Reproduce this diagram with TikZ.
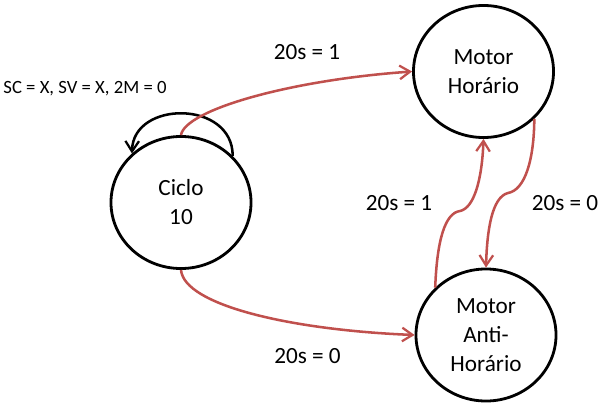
\documentclass[tikz,border=0pt]{standalone}
\usepackage{fontspec}
\setmainfont{Carlito}
\usetikzlibrary{shapes.geometric,arrows.meta}
\definecolor{arrowred}{RGB}{192,80,77}

\begin{document}
\begin{tikzpicture}[x=0.025cm, y=-0.025cm,
		state/.style={draw, line width=2pt, ellipse, minimum width=3.5cm, minimum height=3.3cm, inner sep=0pt, align=center, font=\fontsize{16.5}{20.6}\selectfont},
		trans/.style={draw=arrowred, line width=1.8pt, -{Straight Barb[length=2.6mm, width=3.4mm, line width=1.6pt]}},
		lbl/.style={font=\fontsize{16.5}{20.6}\selectfont}]
			\useasboundingbox (0,0) rectangle (602,407);
			\node[state] (ciclo)   at (181,  202.5) {Ciclo\\10};
			\node[state] (horario) at (483.5, 71.5) {Motor\\Horário};
			\node[state] (anti)    at (486,  335)   {Motor\\Anti-\\Horário};
			\node[font=\fontsize{13.3}{16}\selectfont] (lblloop) at (85, 89) {SC = X, SV = X, 2M = 0};
			\node[lbl] (lbltop)    at (307,  52)  {20s = 1};
			\node[lbl] (lblup)     at (399,  203) {20s = 1};
			\node[lbl] (lbldown)   at (565,  203) {20s = 0};
			\node[lbl] (lblbottom) at (307.5, 356) {20s = 0};
			\draw[line width=1.8pt, -{Straight Barb[length=2.6mm, width=3.4mm, line width=1.6pt]}] (ciclo.42) .. controls (233,100) and (133,100) .. (ciclo.135);
			\draw[trans] (ciclo.north) .. controls (185,110) and (290,80) .. (horario.west);
			\draw[trans] (ciclo.south) .. controls (184,305) and (290,330) .. (anti.west);
			\draw[trans] (anti.137) .. controls (437,240) and (445,213) .. (460,211) .. controls (474,208) and (482,180) .. (horario.south);
			\draw[trans] (horario.-43) .. controls (534,160) and (525,190) .. (508,193) .. controls (492,197) and (487,230) .. (anti.north);
		\end{tikzpicture}
\end{document}
